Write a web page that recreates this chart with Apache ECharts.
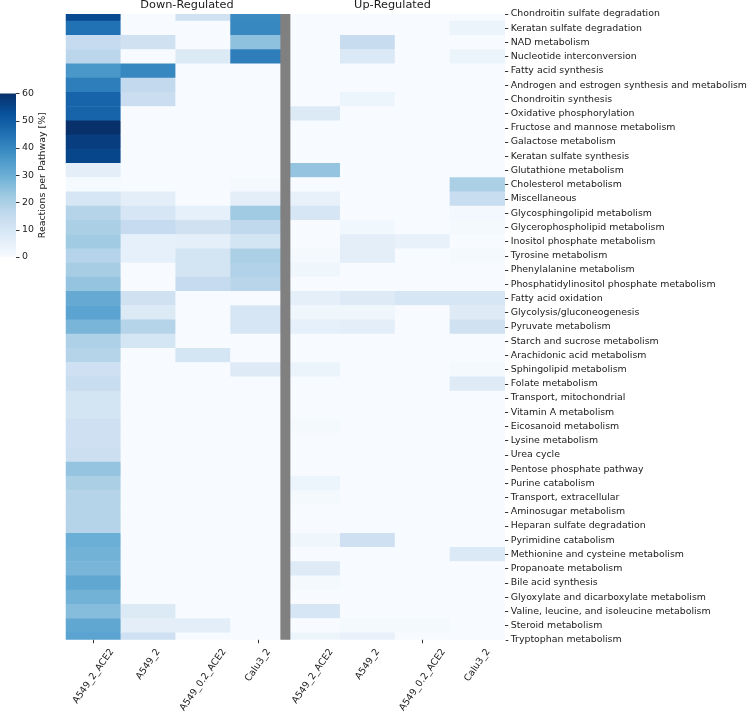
<!DOCTYPE html>
<html><head><meta charset="utf-8">
<script src="https://cdn.jsdelivr.net/npm/echarts@6/dist/echarts.min.js"></script>
<style>html,body{margin:0;padding:0;background:#fff}#c{width:750px;height:715px}</style>
</head><body><div id="c"></div>
<script>
const pathways = [
  'Chondroitin sulfate degradation','Keratan sulfate degradation','NAD metabolism','Nucleotide interconversion',
  'Fatty acid synthesis','Androgen and estrogen synthesis and metabolism','Chondroitin synthesis','Oxidative phosphorylation',
  'Fructose and mannose metabolism','Galactose metabolism','Keratan sulfate synthesis','Glutathione metabolism',
  'Cholesterol metabolism','Miscellaneous','Glycosphingolipid metabolism','Glycerophospholipid metabolism',
  'Inositol phosphate metabolism','Tyrosine metabolism','Phenylalanine metabolism','Phosphatidylinositol phosphate metabolism',
  'Fatty acid oxidation','Glycolysis/gluconeogenesis','Pyruvate metabolism','Starch and sucrose metabolism',
  'Arachidonic acid metabolism','Sphingolipid metabolism','Folate metabolism','Transport, mitochondrial',
  'Vitamin A metabolism','Eicosanoid metabolism','Lysine metabolism','Urea cycle',
  'Pentose phosphate pathway','Purine catabolism','Transport, extracellular','Aminosugar metabolism',
  'Heparan sulfate degradation','Pyrimidine catabolism','Methionine and cysteine metabolism','Propanoate metabolism',
  'Bile acid synthesis','Glyoxylate and dicarboxylate metabolism','Valine, leucine, and isoleucine metabolism','Steroid metabolism',
  'Tryptophan metabolism'
];
const columnLabels = ['A549_2_ACE2','A549_2','A549_0.2_ACE2','Calu3_2','A549_2_ACE2','A549_2','A549_0.2_ACE2','Calu3_2'];
const groupTitles = ['Down-Regulated','Up-Regulated'];
const colorbarTicks = [0,10,20,30,40,50,60];
const colorbarLabel = 'Reactions per Pathway [%]';

// Down-regulated
const downA549_2_ACE2 = [54,45,15,17,36,42,48,48,60,57,55,6,0.5,10,18,20,22,18,21,24,31,33,28,19.5,18,12.5,14,11,11,12.5,12.5,13,24,20,18,18,18,30,29,28,32,29,26,32,33];
const downA549_2      = [0,0,12,0,40,15.5,13.5,0,0,0,0,0,0,6,10,15,5,5,0,0,12,8,18,10.5,0,0,0,0,0,0,0,0,0,0,0,0,0,0,0,0,0,0,8,6,12.5];
const downA549_02_ACE2= [12,0,0,8,0,0,0,0,0,0,0,0,0,0,5,12,5.5,11,11,15,0,0,0,0,10.5,0,0,0,0,0,0,0,0,0,0,0,0,0,0,0,0,0,0,6,0];
const downCalu3_2     = [39,40,25,42,0,0,0,0,0,0,0,0,1,6,22,16,11,20,19,17.5,0,10,10,0,0,7.5,0,0,0,0,0,0,0,0,0,0,0,0,0,0,0,0,0,0,0];
// Up-regulated
const upA549_2_ACE2   = [0,0,0,0,0,0,0,8,0,0,0,24,0,4.5,10,0,0,1,2.5,0,5.5,2.5,5,0,0,3.5,0,0,0,1,0,0,0,3,1,0,0,2.5,0,7.5,0.8,0,10,0,3];
const upA549_2        = [0,0,14.5,8.5,0,0,3,0,0,0,0,0,0,0,0,2,6,6,0,0,7.5,2.5,6,0,0,0,0,0,0,0,0,0,0,0,0,0,0,12.5,0,0,0,0,0,1,4.5];
const upA549_02_ACE2  = [0,0,0,0,0,0,0,0,0,0,0,0,0,0,0,0,4.5,0,0,0,10,0,0,0,0,0,0,0,0,0,0,0,0,0,0,0,0,0,0,0,0,0,0,1,0];
const upCalu3_2       = [0,3.5,0,3.5,0,0,0,0,0,0,0,0,20,14,1.5,1,0,1,0,0,10,7.5,12,0,0,1,7.5,0,0,0,0,0,0,0,0,0,0,0,8.5,0,0,0,0,0,0];

const columns = [downA549_2_ACE2, downA549_2, downA549_02_ACE2, downCalu3_2, upA549_2_ACE2, upA549_2, upA549_02_ACE2, upCalu3_2];
const blues = ['#f7fbff','#deebf7','#c6dbef','#9ecae1','#6baed6','#4292c6','#2171b5','#08519c','#08306b'];
const vMin = colorbarTicks[0], vMax = colorbarTicks[colorbarTicks.length - 1];

const data = [];
columns.forEach((col, c) => col.forEach((v, r) => data.push([c, r, v])));

const FONT = 'DejaVu Sans';
const FS = 9.4;
const TXT = '#1a1a1a';

// label margins so that rotated labels are centred under ticks (matplotlib ha=center)
const ctx = document.createElement('canvas').getContext('2d');
ctx.font = FS + 'px "' + FONT + '"';
const ang = 55 * Math.PI / 180;
const uniqueLabels = Array.from(new Set(columnLabels));
const labelAxes = uniqueLabels.map(name => {
  const w = ctx.measureText(name).width;
  const m = 7 + (w * Math.sin(ang) + 11 * Math.cos(ang)) / 2;
  return {
    type: 'category', gridIndex: 0, data: columnLabels, position: 'bottom', offset: -7.15, z: 70,
    axisLine: {show: false}, axisTick: {show: false}, splitLine: {show: false},
    axisLabel: {
      rotate: 55, align: 'center', verticalAlign: 'middle', margin: m,
      fontSize: FS, fontFamily: FONT, color: TXT,
      interval: (i) => columnLabels[i] === name
    }
  };
});

const gridTop = 6.85, rowH = 14.295;
const chart = echarts.init(document.getElementById('c'), null, {renderer: 'canvas'});
chart.setOption({
  animation: false,
  backgroundColor: '#fff',
  grid: [
    {left: 66, top: gridTop, width: 440, height: rowH * pathways.length, containLabel: false},
    {left: 0, top: 93.5, width: 16, height: 163.5, containLabel: false}
  ],
  xAxis: [
    {type: 'category', gridIndex: 0, data: columnLabels, position: 'bottom', offset: -7.15, z: 70,
     axisLine: {show: false}, axisLabel: {show: false}, splitLine: {show: false},
     axisTick: {show: true, alignWithLabel: true, length: 3.5, lineStyle: {color: '#333', width: 1}}},
    ...labelAxes,
    {type: 'value', gridIndex: 1, min: 0, max: 1, show: false}
  ],
  yAxis: [
    {type: 'category', gridIndex: 0, data: pathways, inverse: true, position: 'right',
     axisLine: {show: false, onZero: false}, splitLine: {show: false},
     axisTick: {show: true, alignWithLabel: true, length: 3.5, lineStyle: {color: '#333', width: 1}},
     axisLabel: {margin: 6, fontSize: FS, fontFamily: FONT, color: TXT, interval: 0}},
    {type: 'value', gridIndex: 1, min: vMin, max: vMax, interval: 10, position: 'right', z: 5,
     axisLine: {show: false, onZero: false}, splitLine: {show: false},
     axisTick: {show: true, length: 3.5, lineStyle: {color: '#333', width: 1}},
     axisLabel: {margin: 6, fontSize: FS, fontFamily: FONT, color: TXT},
     name: colorbarLabel, nameLocation: 'middle', nameRotate: 90, nameGap: 20,
     nameTextStyle: {fontSize: FS, fontFamily: FONT, color: TXT}}
  ],
  visualMap: {
    type: 'continuous', min: vMin, max: vMax, seriesIndex: 0, calculable: false, show: false,
    inRange: {color: blues}
  },
  series: [{
    type: 'heatmap', xAxisIndex: 0, yAxisIndex: 0, data: data,
    emphasis: {disabled: true}, itemStyle: {borderWidth: 0}, progressive: 0
  }]
});

// decorations positioned through the axes
const cx = i => chart.convertToPixel({xAxisIndex: 0}, i);
const cy = i => chart.convertToPixel({yAxisIndex: 0}, i);
const bw = cx(1) - cx(0);
const left = cx(0) - bw / 2, right = cx(7) + bw / 2;
const yFirst = cy(0), yLast = cy(pathways.length - 1);
const gTop = gridTop, gBottom = gridTop + rowH * pathways.length;
const sepX = (cx(3) + cx(4)) / 2;
const cbTop = chart.convertToPixel({yAxisIndex: 1}, vMax), cbBottom = chart.convertToPixel({yAxisIndex: 1}, vMin);
const cbLeft = chart.convertToPixel({xAxisIndex: 5}, 0), cbRight = chart.convertToPixel({xAxisIndex: 5}, 1);
chart.setOption({
  graphic: {elements: [
    {type: 'rect', z: 50, silent: true, shape: {x: left - 1, y: gTop - 1, width: right - left + 2, height: yFirst - gTop + 1}, style: {fill: '#fff'}},
    {type: 'rect', z: 50, silent: true, shape: {x: left - 1, y: yLast, width: right - left + 2, height: gBottom - yLast + 1}, style: {fill: '#fff'}},
    {type: 'rect', z: 60, silent: true, shape: {x: sepX - 5, y: yFirst, width: 10, height: yLast - yFirst}, style: {fill: '#808080'}},
    {type: 'rect', z: 1, silent: true, shape: {x: cbLeft, y: cbTop, width: cbRight - cbLeft, height: cbBottom - cbTop},
     style: {fill: new echarts.graphic.LinearGradient(0, 1, 0, 0, blues.map((c, i) => ({offset: i / (blues.length - 1), color: c})))}},
    {type: 'text', z: 100, silent: true, style: {text: groupTitles[0], x: 187, y: 4.6, align: 'center', verticalAlign: 'middle', fontSize: 11.3, fontFamily: FONT, fill: TXT}},
    {type: 'text', z: 100, silent: true, style: {text: groupTitles[1], x: 392.5, y: 4.6, align: 'center', verticalAlign: 'middle', fontSize: 11.3, fontFamily: FONT, fill: TXT}}
  ]}
});
</script></body></html>
